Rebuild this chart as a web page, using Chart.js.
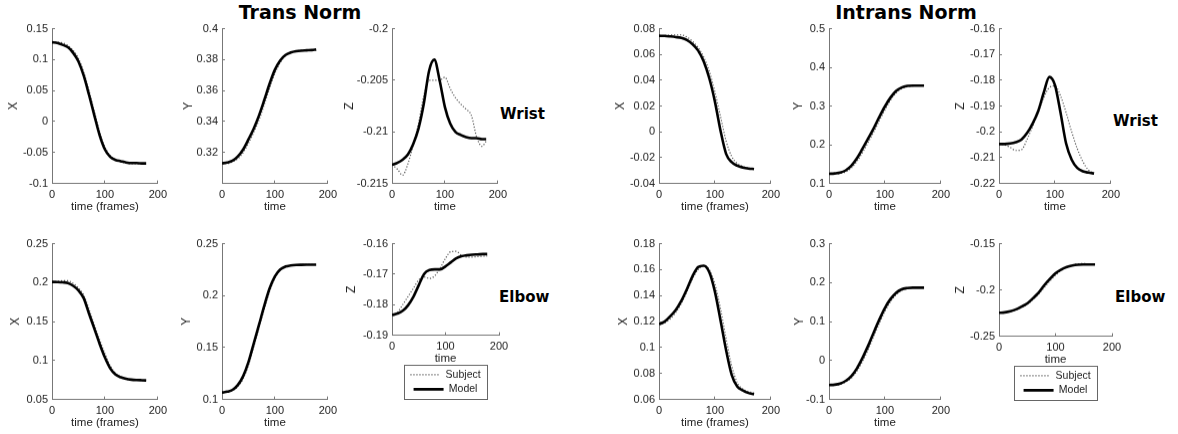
<!DOCTYPE html>
<html>
<head>
<meta charset="utf-8">
<script src="https://cdn.jsdelivr.net/npm/chart.js@4.4.1/dist/chart.umd.min.js"></script>
<style>
body { margin: 0; background: #fff; width: 1178px; height: 434px; position: relative; overflow: hidden; }
.plot { position: absolute; }
.lbl { position: absolute; font-family: "DejaVu Sans"; font-weight: bold; line-height: 1; white-space: nowrap; color: #000; }
</style>
</head>
<body>
<div class="lbl" style="left:150px;top:3px;width:300px;text-align:center;font-size:19px">Trans Norm</div>
<div class="lbl" style="left:756px;top:3px;width:300px;text-align:center;font-size:19px">Intrans Norm</div>
<div class="lbl" style="left:500px;top:107px;font-size:15px">Wrist</div>
<div class="lbl" style="left:499px;top:290px;font-size:15px">Elbow</div>
<div class="lbl" style="left:1113px;top:114px;font-size:15px">Wrist</div>
<div class="lbl" style="left:1115px;top:290px;font-size:15px">Elbow</div>

<script>
// frames
const transFrames = [0, 10, 20, 30, 40, 50, 60, 70, 80, 90, 100, 110, 120, 130, 140, 150, 160, 170, 178];
const intransFrames = [0, 10, 20, 30, 40, 50, 60, 70, 80, 90, 100, 110, 120, 130, 140, 150, 160, 170];
const timeTicks = [0, 100, 200];

// Trans Norm - wrist
const transWristXSubject = [0.128, 0.128, 0.127, 0.123, 0.115, 0.102, 0.080, 0.050, 0.017, -0.016, -0.041, -0.055, -0.062, -0.065, -0.067, -0.068, -0.068, -0.068, -0.068];
const transWristXModel = [0.128, 0.127, 0.124, 0.120, 0.111, 0.097, 0.074, 0.043, 0.010, -0.022, -0.045, -0.057, -0.062, -0.064, -0.066, -0.067, -0.067, -0.0675, -0.0675];
const transWristYSubject = [0.313, 0.313, 0.314, 0.316, 0.320, 0.326, 0.333, 0.341, 0.351, 0.3615, 0.371, 0.378, 0.3825, 0.3845, 0.3855, 0.386, 0.386, 0.386, 0.386];
const transWristYModel = [0.313, 0.3135, 0.3147, 0.3175, 0.322, 0.3285, 0.3355, 0.344, 0.354, 0.3645, 0.3735, 0.3795, 0.383, 0.3846, 0.3854, 0.3858, 0.386, 0.3862, 0.3865];
const transWristZSubject = [-0.2132, -0.2136, -0.2142, -0.2131, -0.2113, -0.2092, -0.2065, -0.2050, -0.2050, -0.2050, -0.2047, -0.2058, -0.2067, -0.2073, -0.2078, -0.2084, -0.2105, -0.2114, -0.2109];
const transWristZModel = [-0.2132, -0.2130, -0.2127, -0.2122, -0.2112, -0.2097, -0.2073, -0.2041, -0.2030, -0.2050, -0.2076, -0.2092, -0.2100, -0.2103, -0.2105, -0.2106, -0.2106, -0.2107, -0.2107];
// Trans Norm - elbow
const transElbowXSubject = [0.201, 0.2015, 0.2025, 0.2025, 0.199, 0.193, 0.184, 0.166, 0.146, 0.127, 0.109, 0.0935, 0.084, 0.079, 0.0765, 0.0752, 0.0748, 0.0746, 0.0745];
const transElbowXModel = [0.201, 0.2008, 0.2004, 0.1995, 0.196, 0.190, 0.180, 0.160, 0.141, 0.1215, 0.104, 0.090, 0.082, 0.0785, 0.0765, 0.0755, 0.075, 0.0747, 0.0745];
const transElbowYSubject = [0.1067, 0.1072, 0.1085, 0.1125, 0.120, 0.133, 0.1505, 0.169, 0.187, 0.204, 0.217, 0.2245, 0.2278, 0.229, 0.2296, 0.2298, 0.2299, 0.230, 0.230];
const transElbowYModel = [0.1067, 0.1075, 0.1093, 0.114, 0.1225, 0.136, 0.154, 0.172, 0.1905, 0.207, 0.2185, 0.2252, 0.228, 0.229, 0.2295, 0.2297, 0.2298, 0.2298, 0.2298];
const transElbowZSubject = [-0.1834, -0.1825, -0.1800, -0.1773, -0.1746, -0.1719, -0.1709, -0.1714, -0.1705, -0.1680, -0.1648, -0.1626, -0.1625, -0.1638, -0.1644, -0.1644, -0.1642, -0.1641, -0.1640];
const transElbowZModel = [-0.1834, -0.1829, -0.1820, -0.1802, -0.1774, -0.1736, -0.1699, -0.1686, -0.1684, -0.1684, -0.1674, -0.1661, -0.1648, -0.1641, -0.1638, -0.1636, -0.1635, -0.1634, -0.1634];

// Intrans Norm - wrist
const intransWristXSubject = [0.0745, 0.0747, 0.075, 0.0752, 0.0752, 0.0735, 0.0702, 0.0655, 0.058, 0.047, 0.031, 0.012, -0.007, -0.019, -0.0245, -0.0268, -0.028, -0.029];
const intransWristXModel = [0.0745, 0.0744, 0.074, 0.0735, 0.0728, 0.0712, 0.068, 0.063, 0.0545, 0.0415, 0.0235, 0.001, -0.017, -0.0235, -0.0262, -0.0276, -0.0284, -0.0288];
const intransWristYSubject = [0.125, 0.125, 0.126, 0.130, 0.140, 0.157, 0.180, 0.206, 0.233, 0.262, 0.290, 0.315, 0.334, 0.345, 0.350, 0.352, 0.353, 0.353];
const intransWristYModel = [0.125, 0.126, 0.128, 0.134, 0.146, 0.165, 0.190, 0.216, 0.243, 0.272, 0.299, 0.322, 0.339, 0.348, 0.352, 0.353, 0.353, 0.353];
const intransWristZSubject = [-0.2047, -0.2050, -0.2060, -0.2072, -0.2070, -0.2030, -0.1980, -0.1925, -0.1868, -0.1828, -0.1822, -0.1860, -0.1925, -0.2000, -0.2065, -0.2115, -0.2148, -0.2160];
const intransWristZModel = [-0.2047, -0.2047, -0.2045, -0.2040, -0.2030, -0.2005, -0.1968, -0.1920, -0.1848, -0.1787, -0.1818, -0.1925, -0.2045, -0.2108, -0.2140, -0.2153, -0.2158, -0.2161];
// Intrans Norm - elbow
const intransElbowXSubject = [0.118, 0.119, 0.122, 0.127, 0.134, 0.143, 0.153, 0.160, 0.163, 0.160, 0.149, 0.130, 0.107, 0.086, 0.073, 0.068, 0.066, 0.065];
const intransElbowXModel = [0.118, 0.120, 0.124, 0.129, 0.136, 0.145, 0.155, 0.162, 0.163, 0.158, 0.143, 0.121, 0.098, 0.079, 0.070, 0.067, 0.065, 0.064];
const intransElbowYSubject = [-0.063, -0.063, -0.061, -0.055, -0.045, -0.027, -0.002, 0.028, 0.062, 0.095, 0.126, 0.151, 0.169, 0.180, 0.185, 0.187, 0.187, 0.187];
const intransElbowYModel = [-0.063, -0.062, -0.059, -0.052, -0.040, -0.020, 0.007, 0.038, 0.072, 0.105, 0.135, 0.158, 0.174, 0.183, 0.186, 0.187, 0.187, 0.187];
const intransElbowZSubject = [-0.2247, -0.2243, -0.2233, -0.2215, -0.2188, -0.2155, -0.2105, -0.2045, -0.1975, -0.1905, -0.1840, -0.1790, -0.1755, -0.1730, -0.1718, -0.1715, -0.1718, -0.1720];
const intransElbowZModel = [-0.2247, -0.2242, -0.2230, -0.2210, -0.2180, -0.2145, -0.2090, -0.2030, -0.1950, -0.1880, -0.1820, -0.1780, -0.1752, -0.1736, -0.1728, -0.1725, -0.1724, -0.1724];

// y tick labels
const transWristXTicks = [-0.1, -0.05, 0, 0.05, 0.1, 0.15];
const transWristYTicks = [0.32, 0.34, 0.36, 0.38, 0.4];
const transWristZTicks = [-0.215, -0.21, -0.205, -0.2];
const transElbowXTicks = [0.05, 0.1, 0.15, 0.2, 0.25];
const transElbowYTicks = [0.1, 0.15, 0.2, 0.25];
const transElbowZTicks = [-0.19, -0.18, -0.17, -0.16];
const intransWristXTicks = [-0.04, -0.02, 0, 0.02, 0.04, 0.06, 0.08];
const intransWristYTicks = [0.1, 0.2, 0.3, 0.4, 0.5];
const intransWristZTicks = [-0.22, -0.21, -0.2, -0.19, -0.18, -0.17, -0.16];
const intransElbowXTicks = [0.06, 0.08, 0.1, 0.12, 0.14, 0.16, 0.18];
const intransElbowYTicks = [-0.1, 0, 0.1, 0.2, 0.3];
const intransElbowZTicks = [-0.25, -0.2, -0.15];

Chart.defaults.font.family = '"Liberation Sans", Arial, sans-serif';

const axisColor = '#777';
const textColor = '#222';

const panels = [
  { x: 52, y: 29, w: 107, h: 154, yOff: 39, yTitle: 'X', xTitle: 'time (frames)', frames: transFrames, subject: transWristXSubject, model: transWristXModel, ticks: transWristXTicks },
  { x: 222, y: 29, w: 107, h: 154, yOff: 34, yTitle: 'Y', xTitle: 'time', frames: transFrames, subject: transWristYSubject, model: transWristYModel, ticks: transWristYTicks, min: 0.3 },
  { x: 392, y: 29, w: 107, h: 154, yOff: 43, yTitle: 'Z', xTitle: 'time', frames: transFrames, subject: transWristZSubject, model: transWristZModel, ticks: transWristZTicks },
  { x: 52, y: 244, w: 107, h: 155, yOff: 37, yTitle: 'X', xTitle: 'time (frames)', frames: transFrames, subject: transElbowXSubject, model: transElbowXModel, ticks: transElbowXTicks },
  { x: 222, y: 244, w: 107, h: 155, yOff: 36, yTitle: 'Y', xTitle: 'time', frames: transFrames, subject: transElbowYSubject, model: transElbowYModel, ticks: transElbowYTicks },
  { x: 392, y: 244, w: 107, h: 91, yOff: 41, yTitle: 'Z', xTitle: 'time', frames: transFrames, subject: transElbowZSubject, model: transElbowZModel, ticks: transElbowZTicks, legend: true },
  { x: 659, y: 29, w: 113, h: 154, yOff: 39, yTitle: 'X', xTitle: 'time (frames)', frames: intransFrames, subject: intransWristXSubject, model: intransWristXModel, ticks: intransWristXTicks },
  { x: 829, y: 29, w: 113, h: 154, yOff: 31, yTitle: 'Y', xTitle: 'time', frames: intransFrames, subject: intransWristYSubject, model: intransWristYModel, ticks: intransWristYTicks },
  { x: 999, y: 29, w: 113, h: 154, yOff: 39, yTitle: 'Z', xTitle: 'time', frames: intransFrames, subject: intransWristZSubject, model: intransWristZModel, ticks: intransWristZTicks },
  { x: 659, y: 244, w: 113, h: 155, yOff: 36, yTitle: 'X', xTitle: 'time (frames)', frames: intransFrames, subject: intransElbowXSubject, model: intransElbowXModel, ticks: intransElbowXTicks },
  { x: 829, y: 244, w: 113, h: 155, yOff: 30, yTitle: 'Y', xTitle: 'time', frames: intransFrames, subject: intransElbowYSubject, model: intransElbowYModel, ticks: intransElbowYTicks },
  { x: 999, y: 244, w: 113, h: 92, yOff: 39, yTitle: 'Z', xTitle: 'time', frames: intransFrames, subject: intransElbowZSubject, model: intransElbowZModel, ticks: intransElbowZTicks, legend: true }
];

// frame around the legend, like the matlab one
const legendFrame = {
  id: 'legendFrame',
  afterDraw(chart) {
    if (!chart.options.plugins.legend.display) return;
    const boxes = chart.legend.legendHitBoxes;
    if (!boxes || !boxes.length) return;
    let l = Infinity, r = -Infinity, t = Infinity, b = -Infinity;
    boxes.forEach(h => {
      l = Math.min(l, h.left); r = Math.max(r, h.left + h.width);
      t = Math.min(t, h.top); b = Math.max(b, h.top + h.height);
    });
    const ctx = chart.ctx;
    ctx.save();
    ctx.strokeStyle = '#666';
    ctx.lineWidth = 1;
    ctx.strokeRect(Math.round(l - 6) + 0.5, Math.round(t - 5) + 0.5, Math.round(r - l + 13), Math.round(b - t + 9));
    ctx.restore();
  }
};

// legend entries take the line style of the dataset itself
function lineLabels(chart) {
  return chart.data.datasets.map((d, i) => ({
    text: d.label,
    datasetIndex: i,
    strokeStyle: d.borderColor,
    fillStyle: d.borderColor,
    fontColor: textColor,
    lineWidth: d.borderWidth,
    lineDash: d.borderDash || [],
    pointStyle: 'line',
    hidden: false
  }));
}

function makePanel(p) {
  const Wy = p.yOff + 7;
  const Pt = 10;
  const Pr = p.legend ? Wy : 16;
  const Hx = 30;
  const cw = Wy + p.w + Pr;
  let ch = Pt + p.h + Hx + (p.legend ? 40 : 0);

  const wrap = document.createElement('div');
  wrap.className = 'plot';
  const cv = document.createElement('canvas');
  cv.width = cw; cv.height = ch;
  cv.style.width = cw + 'px'; cv.style.height = ch + 'px';
  wrap.appendChild(cv);
  document.body.appendChild(wrap);

  const chart = new Chart(cv, {
    type: 'line',
    data: {
      datasets: [
        {
          label: 'Subject',
          data: p.frames.map((t, i) => ({ x: t, y: p.subject[i] })),
          borderColor: '#555',
          borderWidth: 1.2,
          borderDash: [1.2, 1.8],
          pointRadius: 0,
          cubicInterpolationMode: 'monotone',
          order: 1
        },
        {
          label: 'Model',
          data: p.frames.map((t, i) => ({ x: t, y: p.model[i] })),
          borderColor: '#000',
          borderWidth: 2.6,
          pointRadius: 0,
          cubicInterpolationMode: 'monotone',
          order: 0
        }
      ]
    },
    options: {
      responsive: false,
      maintainAspectRatio: false,
      animation: false,
      events: [],
      layout: { padding: { top: Pt, right: Pr, left: 0, bottom: 0 } },
      plugins: {
        tooltip: { enabled: false },
        legend: {
          display: !!p.legend,
          position: 'bottom',
          fullSize: false,
          align: 'center',
          labels: {
            usePointStyle: true,
            pointStyle: 'line',
            pointStyleWidth: 30,
            boxHeight: 10,
            padding: 4,
            color: textColor,
            font: { size: 10.5 },
            generateLabels: lineLabels
          }
        }
      },
      scales: {
        x: {
          type: 'linear',
          min: 0,
          max: 200,
          afterBuildTicks: s => { s.ticks = timeTicks.map(v => ({ value: v })); },
          afterFit: s => { s.height = Hx; },
          grid: { drawOnChartArea: false, tickLength: -3, color: axisColor },
          border: { color: axisColor },
          ticks: { padding: 8, color: textColor, font: { size: 11 }, maxRotation: 0, autoSkip: false },
          title: { display: true, text: p.xTitle, color: textColor, padding: 0, font: { size: 11.5, lineHeight: 1.2 } }
        },
        y: {
          type: 'linear',
          min: p.min !== undefined ? p.min : p.ticks[0],
          max: p.ticks[p.ticks.length - 1],
          afterBuildTicks: s => { s.ticks = p.ticks.map(v => ({ value: v })); },
          afterFit: s => { s.width = Wy; },
          grid: { drawOnChartArea: false, tickLength: -3, color: axisColor },
          border: { color: axisColor },
          ticks: { padding: 7, color: textColor, font: { size: 11 }, callback: v => String(v) },
          title: { display: true, text: p.yTitle, color: textColor, padding: 0, font: { size: 12, lineHeight: 1.2 } }
        }
      }
    },
    plugins: [legendFrame]
  });

  // make the plot area come out at exactly h pixels, then place it
  const ca = chart.chartArea;
  const dh = p.h - (ca.bottom - ca.top);
  if (Math.abs(dh) > 0.5) {
    ch = ch + dh;
    chart.resize(cw, ch);
  }
  wrap.style.left = (p.x - chart.chartArea.left) + 'px';
  wrap.style.top = (p.y - chart.chartArea.top) + 'px';
}

panels.forEach(makePanel);
</script>
</body>
</html>
